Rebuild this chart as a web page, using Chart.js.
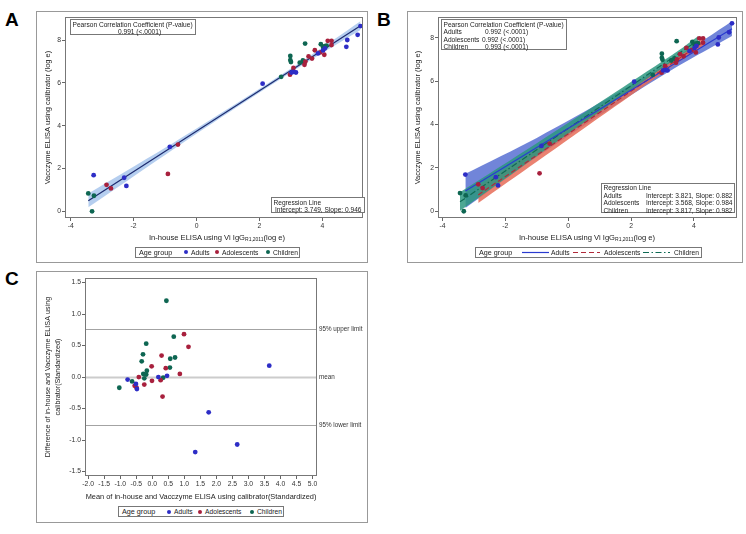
<!DOCTYPE html>
<html>
<head>
<meta charset="utf-8">
<script src="https://cdn.jsdelivr.net/npm/chart.js@4.4.0/dist/chart.umd.min.js"></script>
<style>
  body { margin: 0; width: 746px; height: 534px; position: relative; overflow: hidden; background: #fff;
         font-family: "Liberation Sans", Arial, Helvetica, sans-serif; color: #222; }
  .panel { position: absolute; border: 1px solid #999; box-sizing: border-box; }
  .letter { position: absolute; font: bold 19px "Liberation Sans", Arial, sans-serif; line-height: 19px; color: #000; }
  canvas { position: absolute; }
  .box { position: absolute; border: 1px solid #777; box-sizing: border-box; background: #fff;
         font-size: 6.6px; line-height: 7.5px; white-space: nowrap; color: #222; }
  .box span { position: absolute; }
  .xtitle { position: absolute; width: 220px; text-align: center; font-size: 7.6px; line-height: 9px; white-space: nowrap; color: #222; }
  .xtitle sub { font-size: 5px; vertical-align: -1px; }
  .legend { position: absolute; height: 11px; border: 1px solid #777; box-sizing: border-box; background: #fff;
            font-size: 6.7px; line-height: 9px; white-space: nowrap; color: #222; }
  .legend span { position: absolute; top: 0; color: #222; }
  .legend .grp { font-size: 7.2px; }
  .legend .dot { top: 2.5px; width: 4px; height: 4px; border-radius: 50%; }
  .legend svg { position: absolute; top: 0; }
</style>
</head>
<body>

<div class="letter" style="left:5px;top:10px">A</div>
<div class="letter" style="left:377px;top:10px">B</div>
<div class="letter" style="left:5px;top:269px">C</div>

<div class="panel" style="left:36px;top:11px;width:332px;height:252px"></div>
<div class="panel" style="left:407px;top:11px;width:336px;height:252px"></div>
<div class="panel" style="left:36px;top:271px;width:332px;height:252px"></div>

<canvas id="chartA" width="330" height="250" style="left:37px;top:12px"></canvas>
<canvas id="chartB" width="334" height="250" style="left:408px;top:12px"></canvas>
<canvas id="chartC" width="330" height="249" style="left:37px;top:273px"></canvas>

<!-- panel A text -->
<div class="box" style="left:70px;top:19px;width:126px;height:16px">
  <span style="left:1.5px;top:0.5px">Pearson Correlation Coefficient (P-value)</span>
  <span style="left:47px;top:8px">0.991 (&lt;.0001)</span>
</div>
<div class="box" style="left:271px;top:197px;width:94px;height:16px">
  <span style="left:1.5px;top:0.5px">Regression Line</span>
  <span style="left:3px;top:8px">Intercept: 3.749, Slope: 0.946</span>
</div>
<div class="xtitle" style="left:107px;top:232.5px">In-house ELISA using Vi IgG<sub>R1,2011</sub>(log e)</div>
<div class="legend" style="left:135px;top:246.5px;width:165px">
  <span class="grp" style="left:3px">Age group</span>
  <span class="dot" style="left:48px;background:#2d2dc6"></span><span style="left:55px">Adults</span>
  <span class="dot" style="left:79px;background:#a8203d"></span><span style="left:86px">Adolescents</span>
  <span class="dot" style="left:130px;background:#0e6652"></span><span style="left:137px">Children</span>
</div>

<!-- panel B text -->
<div class="box" style="left:441px;top:19px;width:126px;height:31px">
  <span style="left:1.5px;top:0.5px">Pearson Correlation Coefficient (P-value)</span>
  <span style="left:1.5px;top:8px">Adults</span><span style="left:43px;top:8px">0.992 (&lt;.0001)</span>
  <span style="left:1.5px;top:15.5px">Adolescents</span><span style="left:40px;top:15.5px">0.992 (&lt;.0001)</span>
  <span style="left:1.5px;top:23px">Children</span><span style="left:43px;top:23px">0.993 (&lt;.0001)</span>
</div>
<div class="box" style="left:601px;top:183px;width:134px;height:30px">
  <span style="left:1.5px;top:0px">Regression Line</span>
  <span style="left:1.5px;top:7.5px">Adults</span><span style="right:1.5px;top:7.5px">Intercept: 3.821, Slope: 0.882</span>
  <span style="left:1.5px;top:15px">Adolescents</span><span style="right:1.5px;top:15px">Intercept: 3.568, Slope: 0.984</span>
  <span style="left:1.5px;top:22.5px">Children</span><span style="right:1.5px;top:22.5px">Intercept: 3.817, Slope: 0.982</span>
</div>
<div class="xtitle" style="left:477px;top:232.5px">In-house ELISA using Vi IgG<sub>R1,2011</sub>(log e)</div>
<div class="legend" style="left:475px;top:246.5px;width:227px">
  <span class="grp" style="left:3px">Age group</span>
  <svg style="left:46px" width="27" height="9"><line x1="0" y1="4.5" x2="27" y2="4.5" stroke="#2a3bd0" stroke-width="1.2"/></svg>
  <span style="left:75px">Adults</span>
  <svg style="left:97px" width="27" height="9"><line x1="0" y1="4.5" x2="27" y2="4.5" stroke="#b02a3a" stroke-width="1.2" stroke-dasharray="5,3"/></svg>
  <span style="left:128px">Adolescents</span>
  <svg style="left:167px" width="27" height="9"><line x1="0" y1="4.5" x2="27" y2="4.5" stroke="#0f6b55" stroke-width="1.2" stroke-dasharray="6,2.5,1.5,2.5"/></svg>
  <span style="left:198px">Children</span>
</div>

<!-- panel C legend -->
<div class="legend" style="left:118px;top:506px;width:166px">
  <span class="grp" style="left:3px">Age group</span>
  <span class="dot" style="left:48px;background:#2d2dc6"></span><span style="left:55px">Adults</span>
  <span class="dot" style="left:79px;background:#a8203d"></span><span style="left:86px">Adolescents</span>
  <span class="dot" style="left:131px;background:#0e6652"></span><span style="left:138px">Children</span>
</div>

<script>
// ---- panels A and B: in-house ELISA (x) vs Vacczyme ELISA (y), log e ----
const adultsX = [-3.27, -2.30, -2.23, -0.85, 2.10, 3.02, 3.09, 3.16, 3.86, 4.02, 4.08, 4.76, 4.79, 5.12, 5.21];
const adultsY = [1.69, 1.57, 1.19, 3.01, 5.97, 6.49, 6.52, 6.49, 7.38, 7.52, 7.62, 7.69, 8.01, 8.25, 8.66];
const adolX = [-2.86, -2.72, -0.91, -0.59, 2.97, 3.08, 3.43, 3.46, 3.56, 3.67, 3.76, 3.93, 4.06, 4.17, 4.29, 4.29];
const adolY = [1.24, 1.07, 1.75, 3.12, 6.39, 6.70, 6.85, 7.00, 7.24, 7.14, 7.53, 7.43, 7.32, 7.97, 7.97, 7.77];
const childX = [-3.44, -3.26, -3.32, 2.69, 2.98, 2.98, 3.00, 3.28, 3.38, 3.43, 3.45, 3.95, 4.02, 4.08, 4.13];
const childY = [0.84, 0.73, 0.00, 6.29, 7.26, 7.07, 6.98, 6.95, 7.05, 6.95, 7.84, 7.81, 7.68, 7.72, 7.75];

// panel A: pooled regression line and its band
const fitAllX = [-3.44, 5.21];
const fitAllY = [0.495, 8.678];
const bandAllX = [-3.44, -1, 1, 3.5, 5.21];
const bandAllLo = [0.19, 2.64, 4.60, 6.96, 8.48];
const bandAllHi = [0.83, 2.97, 4.80, 7.16, 8.88];

// panel B: one regression line and band per age group
const fitAdultsX = [-3.27, 5.21];
const fitAdultsY = [0.937, 8.416];
const fitAdolX = [-2.86, 4.29];
const fitAdolY = [0.754, 7.789];
const fitChildX = [-3.44, 4.13];
const fitChildY = [0.439, 7.873];
const bandAdultsX = [-3.27, -1, 1.5, 3.5, 5.21];
const bandAdultsLo = [0.15, 2.50, 4.89, 6.69, 8.08];
const bandAdultsHi = [1.73, 3.38, 5.40, 7.13, 8.76];
const bandAdolX = [-2.86, -1, 1.5, 3.5, 4.29];
const bandAdolLo = [0.38, 2.28, 4.84, 6.86, 7.59];
const bandAdolHi = [1.13, 2.88, 5.24, 7.16, 7.99];
const bandChildX = [-3.44, -1, 1.5, 3.5, 4.13];
const bandChildLo = [0.02, 2.54, 5.09, 7.10, 7.67];
const bandChildHi = [0.88, 3.14, 5.49, 7.40, 8.07];

// ---- panel C: Bland-Altman (standardized) ----
const baAdultsX = [-0.77, -0.51, -0.48, 0.19, 0.46, 1.34, 1.76, 2.65, 3.65];
const baAdultsY = [-0.04, -0.11, -0.19, 0.00, 0.02, -1.19, -0.56, -1.07, 0.18];
const baAdolX = [-0.55, -0.49, -0.42, -0.25, -0.02, -0.01, 0.29, 0.26, 0.32, 0.42, 0.86, 0.99, 1.13];
const baAdolY = [-0.14, -0.17, 0.00, -0.12, 0.17, -0.06, 0.34, -0.05, -0.31, 0.14, 0.05, 0.68, 0.48];
const baChildX = [-1.03, -0.63, -0.33, -0.29, -0.28, -0.25, -0.19, -0.19, -0.17, 0.34, 0.44, 0.55, 0.56, 0.67, 0.71];
const baChildY = [-0.17, -0.07, 0.25, 0.36, 0.05, -0.02, 0.04, 0.53, 0.10, -0.01, 1.21, 0.15, 0.29, 0.64, 0.31];
const baLimits = [0.765, 0, -0.765];
const baLimitLabels = ['95% upper limit', 'mean', '95% lower limit'];

// tick labels
const ticksABx = [-4, -2, 0, 2, 4];
const ticksABy = [0, 2, 4, 6, 8];
const ticksCx = [-2.0, -1.5, -1.0, -0.5, 0.0, 0.5, 1.0, 1.5, 2.0, 2.5, 3.0, 3.5, 4.0, 4.5, 5.0];
const ticksCy = [-1.5, -1.0, -0.5, 0.0, 0.5, 1.0, 1.5];

const fam = '"Liberation Sans", Arial, Helvetica, sans-serif';
const tickFont = { family: fam, size: 6.8 };
const colAdults = '#2d2dc6', colAdol = '#a8203d', colChild = '#0e6652';

function pts(xs, ys) { return xs.map((x, i) => ({ x: x, y: ys[i] })); }

function scatterSet(label, xs, ys, color) {
  return { type: 'scatter', label, data: pts(xs, ys), showLine: false, pointRadius: 2.4,
           pointBackgroundColor: color, pointBorderColor: color, pointBorderWidth: 0, order: 0 };
}
function bandSets(xs, lo, hi, color, order) {
  const base = { type: 'line', showLine: true, pointRadius: 0, borderWidth: 0, borderColor: 'transparent', tension: 0.3, order };
  return [
    Object.assign({ data: pts(xs, lo), fill: false }, base),
    Object.assign({ data: pts(xs, hi), fill: '-1', backgroundColor: color }, base)
  ];
}
function lineSet(xs, ys, color, dash) {
  return { type: 'line', data: pts(xs, ys), pointRadius: 0, borderWidth: 1.2, borderColor: color,
           borderDash: dash || [], fill: false, order: 1 };
}

function scaleOpts(min, max, vals, fmt, size, horizontal, title) {
  return {
    type: 'linear', min: min, max: max,
    afterBuildTicks: s => { s.ticks = vals.map(v => ({ value: v })); },
    afterFit: s => { if (horizontal) s.height = size; else s.width = size; },
    grid: { drawOnChartArea: false, drawTicks: true, tickLength: 3, tickColor: '#666' },
    border: { display: false },
    ticks: { font: tickFont, color: '#333', padding: 1, autoSkip: false, maxRotation: 0, callback: v => fmt(v) },
    title: title || { display: false }
  };
}

const framePlugin = {
  id: 'frame',
  afterDatasetsDraw(chart) {
    const { ctx, chartArea: a } = chart;
    ctx.save();
    ctx.strokeStyle = '#777';
    ctx.lineWidth = 1;
    ctx.strokeRect(Math.round(a.left) + 0.5, Math.round(a.top) + 0.5, Math.round(a.right - a.left) - 1, Math.round(a.bottom - a.top) - 1);
    ctx.restore();
  }
};

const baLinesPlugin = {
  id: 'baLines',
  beforeDatasetsDraw(chart) {
    const { ctx, chartArea: a, scales } = chart;
    baLimits.forEach((v, i) => {
      const py = Math.round(scales.y.getPixelForValue(v)) + 0.5;
      ctx.save();
      ctx.strokeStyle = i === 1 ? '#cccccc' : '#a3a3a3';
      ctx.lineWidth = i === 1 ? 2 : 1;
      ctx.beginPath();
      ctx.moveTo(a.left, py);
      ctx.lineTo(a.right, py);
      ctx.stroke();
      ctx.fillStyle = '#333';
      ctx.font = '6.3px ' + fam;
      ctx.textBaseline = 'middle';
      ctx.fillText(baLimitLabels[i], a.right + 2, py);
      ctx.restore();
    });
  }
};

const common = { responsive: false, animation: false, events: [], plugins: { legend: { display: false }, tooltip: { enabled: false } } };
const intFmt = v => String(v);
const decFmt = v => v.toFixed(1);

// panel A
new Chart(document.getElementById('chartA'), {
  type: 'scatter',
  data: {
    datasets: [
      ...bandSets(bandAllX, bandAllLo, bandAllHi, 'rgba(120,165,225,0.55)', 2),
      lineSet(fitAllX, fitAllY, '#1c2a6e'),
      scatterSet('Adults', adultsX, adultsY, colAdults),
      scatterSet('Adolescents', adolX, adolY, colAdol),
      scatterSet('Children', childX, childY, colChild)
    ]
  },
  options: Object.assign({}, common, {
    layout: { padding: { top: 4, right: 3, left: 0, bottom: 0 } },
    scales: {
      x: scaleOpts(-4.18, 5.29, ticksABx, intFmt, 44, true),
      y: scaleOpts(-0.31, 9.08, ticksABy, intFmt, 28, false, {
        display: true, text: 'Vacczyme ELISA using calibrator (log e)', color: '#222',
        font: { family: fam, size: 7.5, lineHeight: 1.2 }, padding: { top: 6.5, bottom: 0 }
      })
    }
  }),
  plugins: [framePlugin]
});

// panel B
new Chart(document.getElementById('chartB'), {
  type: 'scatter',
  data: {
    datasets: [
      ...bandSets(bandAdultsX, bandAdultsLo, bandAdultsHi, 'rgba(88,112,210,0.85)', 4),
      ...bandSets(bandAdolX, bandAdolLo, bandAdolHi, 'rgba(230,108,88,0.85)', 3),
      ...bandSets(bandChildX, bandChildLo, bandChildHi, 'rgba(45,152,128,0.85)', 2),
      lineSet(fitAdultsX, fitAdultsY, '#2a3bd0'),
      lineSet(fitAdolX, fitAdolY, '#b02a3a', [5, 3]),
      lineSet(fitChildX, fitChildY, '#0f6b55', [6, 2.5, 1.5, 2.5]),
      scatterSet('Adults', adultsX, adultsY, colAdults),
      scatterSet('Adolescents', adolX, adolY, colAdol),
      scatterSet('Children', childX, childY, colChild)
    ]
  },
  options: Object.assign({}, common, {
    layout: { padding: { top: 4, right: 5, left: 0, bottom: 0 } },
    scales: {
      x: scaleOpts(-4.14, 5.37, ticksABx, intFmt, 44, true),
      y: scaleOpts(-0.31, 8.95, ticksABy, intFmt, 30, false, {
        display: true, text: 'Vacczyme ELISA using calibrator (log e)', color: '#222',
        font: { family: fam, size: 7.5, lineHeight: 1.2 }, padding: { top: 5.8, bottom: 0 }
      })
    }
  }),
  plugins: [framePlugin]
});

// panel C
new Chart(document.getElementById('chartC'), {
  type: 'scatter',
  data: {
    datasets: [
      scatterSet('Adults', baAdultsX, baAdultsY, colAdults),
      scatterSet('Adolescents', baAdolX, baAdolY, colAdol),
      scatterSet('Children', baChildX, baChildY, colChild)
    ]
  },
  options: Object.assign({}, common, {
    layout: { padding: { top: 3, right: 50, left: 0, bottom: 0 } },
    scales: {
      x: scaleOpts(-2.1, 5.14, ticksCx, decFmt, 46, true, {
        display: true, text: 'Mean of in-house and Vacczyme ELISA using calibrator(Standardized)', color: '#222',
        font: { family: fam, size: 7.4, lineHeight: 1.2 }, padding: { top: 0, bottom: 20.6 }
      }),
      y: scaleOpts(-1.57, 1.57, ticksCy, decFmt, 48, false, {
        display: true, text: ['Difference of in-house and Vacczyme ELISA using', 'calibrator(Standardized)'], color: '#222',
        font: { family: fam, size: 7.2, lineHeight: 1.47 }, padding: { top: 5.4, bottom: 0 }
      })
    }
  }),
  plugins: [framePlugin, baLinesPlugin]
});
</script>
</body>
</html>
